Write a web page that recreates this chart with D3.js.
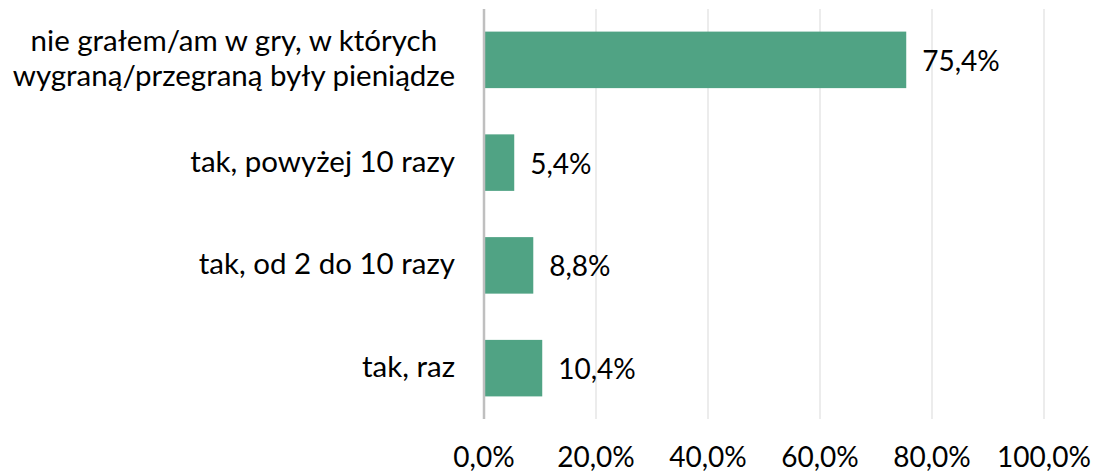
<!DOCTYPE html>
<html>
<head>
<meta charset="utf-8">
<script src="https://cdn.jsdelivr.net/npm/d3@7"></script>
<style>
  body { margin: 0; background: #fff; }
  text { font-family: Lato, "Open Sans", sans-serif; fill: #000; }
</style>
</head>
<body>
<div id="chart"></div>
<script>
// data
var categories = [
  ["nie grałem/am w gry, w których", "wygraną/przegraną były pieniądze"],
  ["tak, powyżej 10 razy"],
  ["tak, od 2 do 10 razy"],
  ["tak, raz"]
]
var values = [75.4, 5.4, 8.8, 10.4]
var ticks = [0, 20, 40, 60, 80, 100]

var width = 1096
var height = 472
var fontSize = 28
var labelSize = 29.5

var svg = d3.select('#chart').append('svg')
  .attr('width', width)
  .attr('height', height)

var x = d3.scaleLinear().domain([0, 100]).range([484, 1044])
var y = d3.scaleBand()
  .domain(d3.range(categories.length))
  .range([9, 419])
  .paddingInner(0.45)
  .paddingOuter(0.22)

function fmt(v) {
  return v.toFixed(1).replace('.', ',') + '%'
}

// gridlines
svg.append('g')
  .selectAll('line')
  .data(ticks.slice(1))
  .enter().append('line')
  .attr('x1', function(d) { return x(d) })
  .attr('x2', function(d) { return x(d) })
  .attr('y1', 9)
  .attr('y2', 419)
  .attr('stroke', '#e6e6e6')
  .attr('stroke-width', 1.5)

// bars
svg.append('g')
  .selectAll('rect')
  .data(values)
  .enter().append('rect')
  .attr('x', x(0))
  .attr('y', function(d, i) { return y(i) })
  .attr('width', function(d) { return x(d) - x(0) })
  .attr('height', y.bandwidth())
  .attr('fill', '#50a384')

// vertical axis line
svg.append('line')
  .attr('x1', x(0)).attr('x2', x(0))
  .attr('y1', 9).attr('y2', 419)
  .attr('stroke', '#bfbfbf')
  .attr('stroke-width', 2.5)

// value labels
svg.append('g')
  .selectAll('text')
  .data(values)
  .enter().append('text')
  .attr('x', function(d) { return x(d) + 16 })
  .attr('y', function(d, i) { return y(i) + y.bandwidth() / 2 + 11 })
  .attr('font-size', fontSize)
  .text(fmt)

// category labels, wrapped lines centred on each other, block right-aligned
var labelRight = 455
var lineGap = 35
categories.forEach(function(lines, i) {
  var cy = y(i) + y.bandwidth() / 2
  var g = svg.append('text')
    .attr('font-size', labelSize)
    .attr('text-anchor', 'middle')
  var spans = lines.map(function(l, j) {
    return g.append('tspan')
      .attr('y', cy + 9 + (j - (lines.length - 1) / 2) * lineGap)
      .text(l)
  })
  var w = d3.max(spans, function(s) { return s.node().getComputedTextLength() })
  spans.forEach(function(s) { s.attr('x', labelRight - w / 2) })
})

// x tick labels
svg.append('g')
  .selectAll('text')
  .data(ticks)
  .enter().append('text')
  .attr('x', function(d) { return x(d) })
  .attr('y', 467)
  .attr('text-anchor', 'middle')
  .attr('font-size', fontSize)
  .text(fmt)
</script>
</body>
</html>
